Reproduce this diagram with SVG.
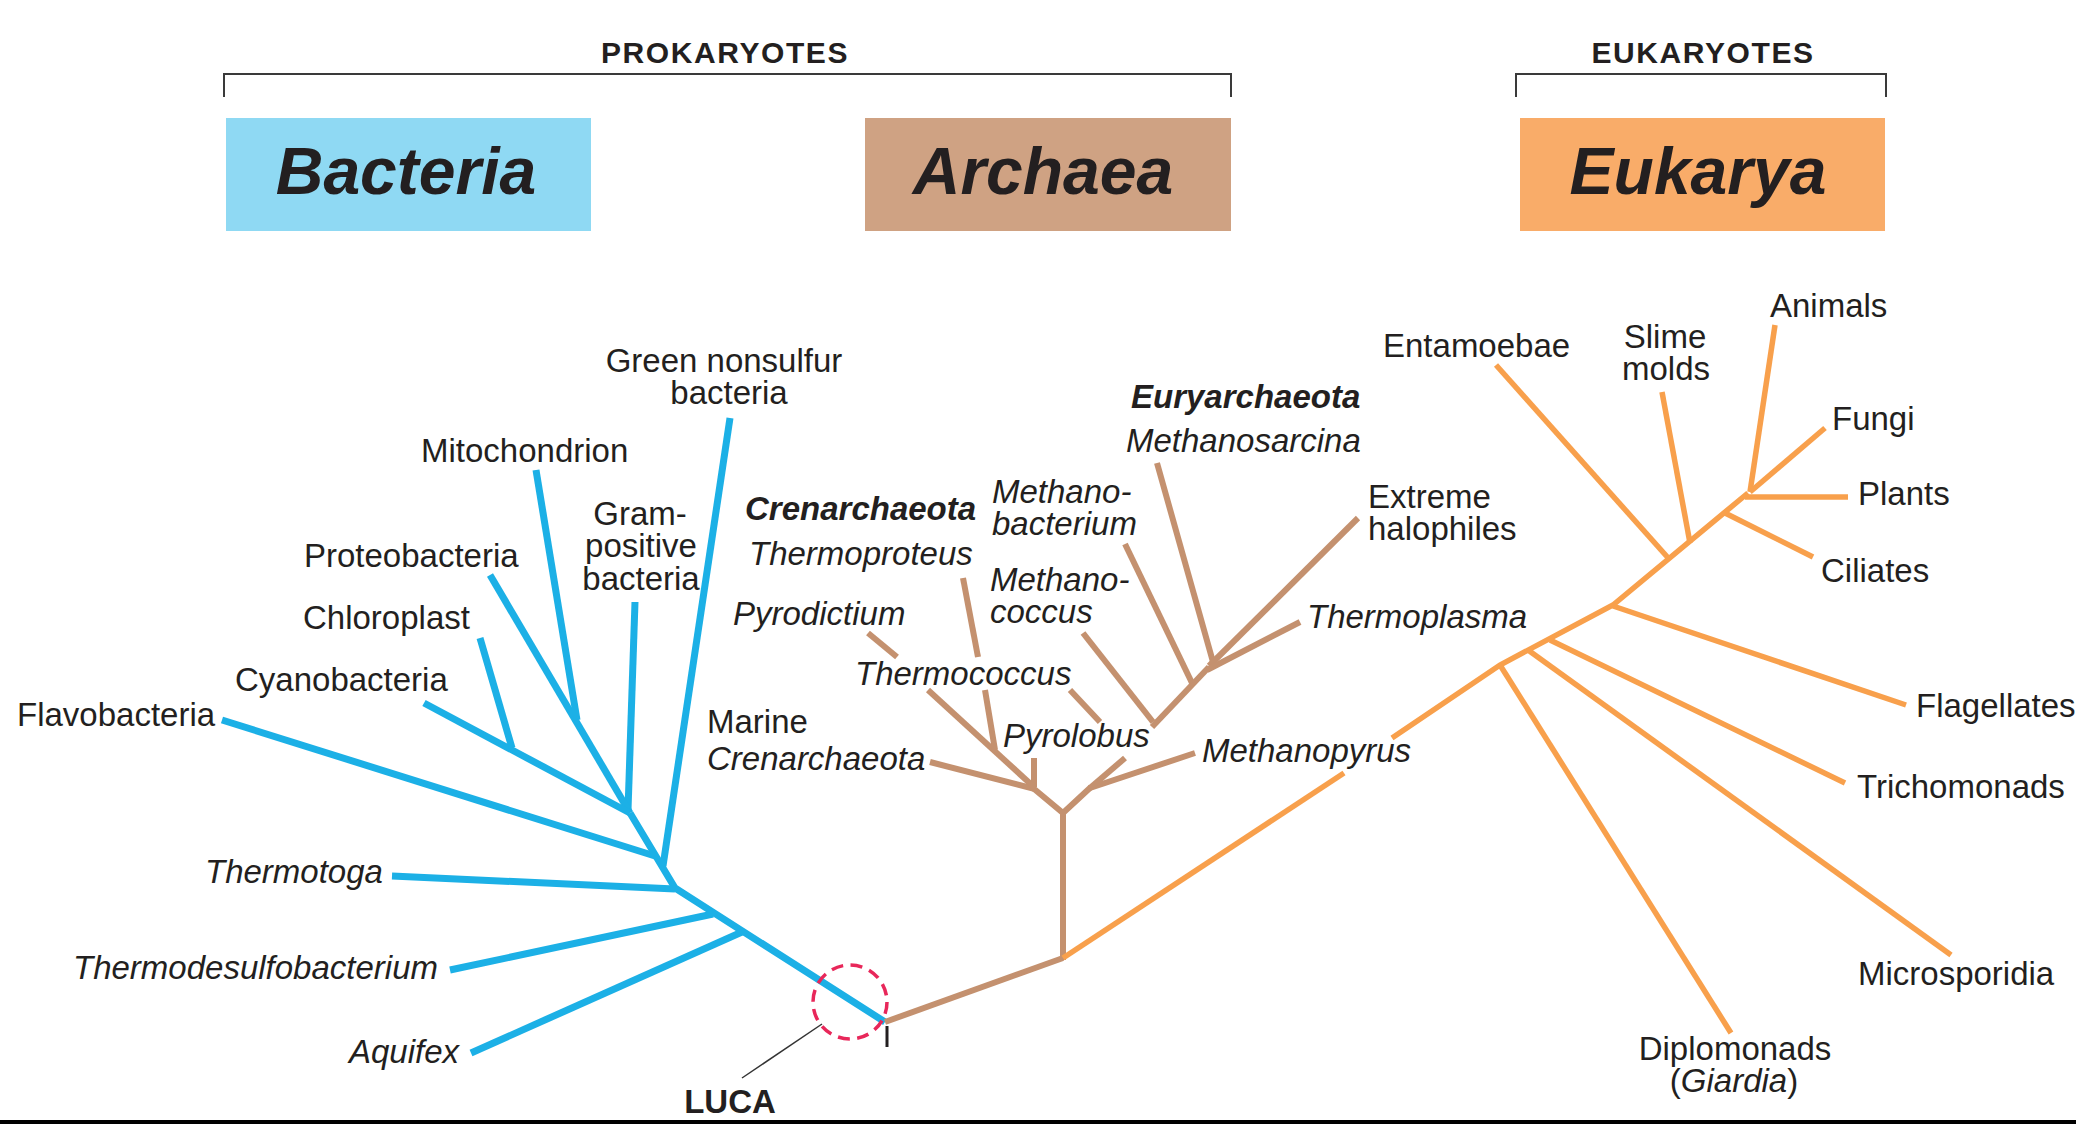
<svg xmlns="http://www.w3.org/2000/svg" width="2076" height="1124" viewBox="0 0 2076 1124">
<style>
text { font-family: "Liberation Sans", Arial, Helvetica, sans-serif; fill: #231f20; }
.lbl { font-size: 33px; }
.it { font-style: italic; }
.b { font-weight: bold; }
.m { text-anchor: middle; }
.big { font-size: 66px; font-weight: bold; font-style: italic; text-anchor: middle; }
.hdr { font-size: 30px; font-weight: bold; text-anchor: middle; letter-spacing: 1.6px; }
.bac { stroke: #1cb0e6; stroke-width: 7; fill: none; }
.arc { stroke: #c4916f; stroke-width: 6; fill: none; }
.euk { stroke: #f8a04c; stroke-width: 5.5; fill: none; }
.brk { stroke: #3a3a3a; stroke-width: 2; fill: none; }
</style>
<rect width="2076" height="1124" fill="#ffffff"/>

<g id="header">
  <g id="prokaryotes">
    <text class="hdr" x="725" y="63">PROKARYOTES</text>
    <path class="brk" d="M224,97 V74 H1231 V97"/>
  </g>
  <g id="eukaryotes">
    <text class="hdr" x="1703" y="63">EUKARYOTES</text>
    <path class="brk" d="M1516,97 V74 H1886 V97"/>
  </g>
  <g id="domain-bacteria">
    <rect x="226" y="118" width="365" height="113" fill="#8fd9f3"/>
    <text class="big" x="406" y="194">Bacteria</text>
  </g>
  <g id="domain-archaea">
    <rect x="865" y="118" width="366" height="113" fill="#cfa283"/>
    <text class="big" x="1043" y="194">Archaea</text>
  </g>
  <g id="domain-eukarya">
    <rect x="1520" y="118" width="365" height="113" fill="#f9ac69"/>
    <text class="big" x="1698" y="194">Eukarya</text>
  </g>
</g>

<g id="connectors">
  <!-- Bacteria -->
  <polyline class="bac" points="885,1022 675,888 630,813"/>
  <line class="bac" x1="742" y1="932" x2="471" y2="1053"/>
  <line class="bac" x1="713" y1="914" x2="450" y2="970"/>
  <line class="bac" x1="675" y1="889" x2="392" y2="876"/>
  <line class="bac" x1="663" y1="866" x2="730" y2="418"/>
  <line class="bac" x1="655" y1="856" x2="222" y2="720"/>
  <line class="bac" x1="628" y1="810" x2="635" y2="602"/>
  <line class="bac" x1="630" y1="813" x2="490" y2="575"/>
  <line class="bac" x1="577" y1="720" x2="536" y2="470"/>
  <line class="bac" x1="630" y1="813" x2="424" y2="703"/>
  <line class="bac" x1="512" y1="748" x2="480" y2="638"/>
  <!-- Archaea -->
  <line class="arc" x1="885" y1="1022" x2="1063" y2="958"/>
  <line class="arc" x1="1063" y1="960" x2="1063" y2="813"/>
  <polyline class="arc" points="1033,788 1063,813 1091,787"/>
  <line class="arc" x1="930" y1="762" x2="1035" y2="789"/>
  <line class="arc" x1="1034" y1="758" x2="1034" y2="787"/>
  <line class="arc" x1="928" y1="690" x2="1035" y2="788"/>
  <line class="arc" x1="868" y1="633" x2="897" y2="657"/>
  <line class="arc" x1="963" y1="578" x2="978" y2="657"/>
  <line class="arc" x1="985" y1="690" x2="995" y2="750"/>
  <line class="arc" x1="1070" y1="690" x2="1100" y2="722"/>
  <line class="arc" x1="1090" y1="788" x2="1195" y2="753"/>
  <line class="arc" x1="1090" y1="788" x2="1125" y2="758"/>
  <line class="arc" x1="1152" y1="727" x2="1209" y2="667"/>
  <line class="arc" x1="1083" y1="633" x2="1153" y2="722"/>
  <line class="arc" x1="1125" y1="544" x2="1192" y2="683"/>
  <line class="arc" x1="1157" y1="463" x2="1213" y2="662"/>
  <line class="arc" x1="1358" y1="518" x2="1209" y2="666"/>
  <line class="arc" x1="1300" y1="622" x2="1207" y2="670"/>
  <!-- Eukarya -->
  <line class="euk" x1="1063" y1="958" x2="1344" y2="773"/>
  <polyline class="euk" points="1392,738 1500,665 1613,605 1748,493"/>
  <line class="euk" x1="1500" y1="665" x2="1731" y2="1033"/>
  <line class="euk" x1="1528" y1="650" x2="1951" y2="955"/>
  <line class="euk" x1="1550" y1="640" x2="1845" y2="783"/>
  <line class="euk" x1="1613" y1="606" x2="1906" y2="705"/>
  <line class="euk" x1="1670" y1="560" x2="1496" y2="365"/>
  <line class="euk" x1="1690" y1="543" x2="1662" y2="392"/>
  <line class="euk" x1="1725" y1="513" x2="1813" y2="557"/>
  <line class="euk" x1="1745" y1="497" x2="1848" y2="497"/>
  <line class="euk" x1="1750" y1="492" x2="1775" y2="325"/>
  <line class="euk" x1="1750" y1="492" x2="1825" y2="428"/>
</g>

<g id="luca">
  <circle cx="850" cy="1002" r="37" fill="none" stroke="#e8275a" stroke-width="3.5" stroke-dasharray="12 7.4"/>
  <line x1="887" y1="1026" x2="887" y2="1047" stroke="#231f20" stroke-width="3"/>
  <line x1="822" y1="1024" x2="742" y2="1078" stroke="#333" stroke-width="1.5"/>
  <text class="lbl b m" x="730" y="1113">LUCA</text>
</g>

<g id="bacteria-labels">
  <g id="n-green-nonsulfur"><text class="lbl m" x="724" y="372">Green nonsulfur<tspan x="729" dy="32">bacteria</tspan></text></g>
  <g id="n-mitochondrion"><text class="lbl" x="421" y="462">Mitochondrion</text></g>
  <g id="n-gram-positive"><text class="lbl m" x="640" y="525">Gram-<tspan x="641" dy="32">positive</tspan><tspan x="641" dy="33">bacteria</tspan></text></g>
  <g id="n-proteobacteria"><text class="lbl" x="304" y="567">Proteobacteria</text></g>
  <g id="n-chloroplast"><text class="lbl" x="303" y="629">Chloroplast</text></g>
  <g id="n-cyanobacteria"><text class="lbl" x="235" y="691">Cyanobacteria</text></g>
  <g id="n-flavobacteria"><text class="lbl" x="17" y="726">Flavobacteria</text></g>
  <g id="n-thermotoga"><text class="lbl it" x="205" y="883">Thermotoga</text></g>
  <g id="n-thermodesulfobacterium"><text class="lbl it" x="73" y="979">Thermodesulfobacterium</text></g>
  <g id="n-aquifex"><text class="lbl it" x="349" y="1063">Aquifex</text></g>
</g>

<g id="archaea-labels">
  <g id="n-euryarchaeota"><text class="lbl b it" x="1131" y="408">Euryarchaeota</text></g>
  <g id="n-methanosarcina"><text class="lbl it" x="1126" y="452">Methanosarcina</text></g>
  <g id="n-crenarchaeota"><text class="lbl b it" x="745" y="520">Crenarchaeota</text></g>
  <g id="n-thermoproteus"><text class="lbl it" x="749" y="565">Thermoproteus</text></g>
  <g id="n-pyrodictium"><text class="lbl it" x="733" y="625">Pyrodictium</text></g>
  <g id="n-methanobacterium"><text class="lbl it" x="992" y="503">Methano-<tspan x="992" dy="32">bacterium</tspan></text></g>
  <g id="n-methanococcus"><text class="lbl it" x="990" y="591">Methano-<tspan x="990" dy="32">coccus</tspan></text></g>
  <g id="n-thermococcus"><text class="lbl it" x="855" y="685">Thermococcus</text></g>
  <g id="n-marine-crenarchaeota"><text class="lbl" x="707" y="733">Marine<tspan class="it" x="707" dy="37">Crenarchaeota</tspan></text></g>
  <g id="n-pyrolobus"><text class="lbl it" x="1003" y="747">Pyrolobus</text></g>
  <g id="n-methanopyrus"><text class="lbl it" x="1202" y="762">Methanopyrus</text></g>
  <g id="n-extreme-halophiles"><text class="lbl" x="1368" y="508">Extreme<tspan x="1368" dy="32">halophiles</tspan></text></g>
  <g id="n-thermoplasma"><text class="lbl it" x="1307" y="628">Thermoplasma</text></g>
</g>

<g id="eukarya-labels">
  <g id="n-entamoebae"><text class="lbl" x="1383" y="357">Entamoebae</text></g>
  <g id="n-slime-molds"><text class="lbl m" x="1665" y="348">Slime<tspan x="1666" dy="32">molds</tspan></text></g>
  <g id="n-animals"><text class="lbl" x="1770" y="317">Animals</text></g>
  <g id="n-fungi"><text class="lbl" x="1832" y="430">Fungi</text></g>
  <g id="n-plants"><text class="lbl" x="1858" y="505">Plants</text></g>
  <g id="n-ciliates"><text class="lbl" x="1821" y="582">Ciliates</text></g>
  <g id="n-flagellates"><text class="lbl" x="1916" y="717">Flagellates</text></g>
  <g id="n-trichomonads"><text class="lbl" x="1857" y="798">Trichomonads</text></g>
  <g id="n-microsporidia"><text class="lbl" x="1858" y="985">Microsporidia</text></g>
  <g id="n-diplomonads"><text class="lbl m" x="1735" y="1060">Diplomonads<tspan x="1734" dy="32">(<tspan class="it">Giardia</tspan>)</tspan></text></g>
</g>

<rect x="0" y="1120" width="2076" height="4" fill="#000000"/>
</svg>
